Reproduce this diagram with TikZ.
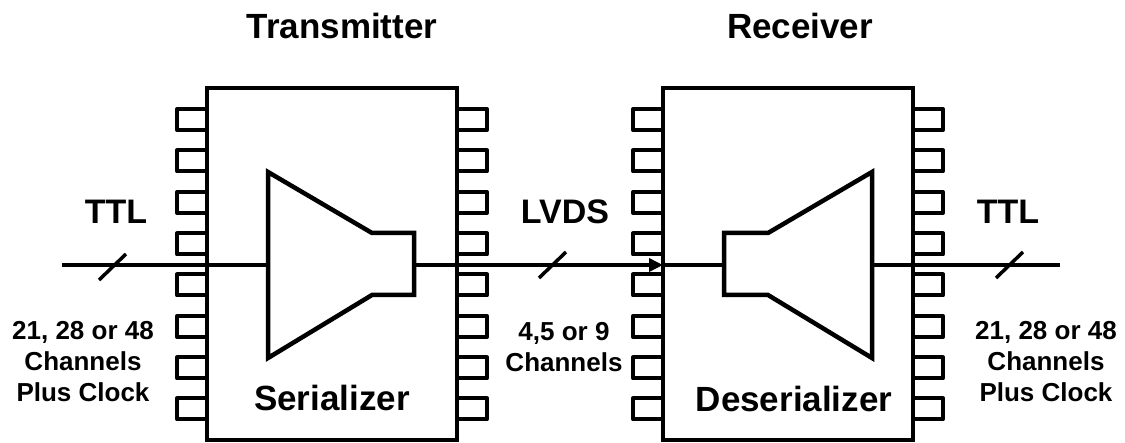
\documentclass[tikz,border=0pt]{standalone}
\usepackage{fontspec}
\setmainfont{Liberation Sans}
\usetikzlibrary{arrows.meta}
\tikzset{
  chip/.style={draw, line width=4.5pt, minimum width=250pt, minimum height=352pt, inner sep=0pt},
  pinline/.style={line width=4pt, line join=round},
  sig/.style={line width=3.5pt},
  amp/.style={line width=4.5pt, line join=miter},
  title/.style={font=\bfseries\fontsize{35}{42}\selectfont, inner sep=0pt},
  big/.style={font=\bfseries\fontsize{34}{40}\selectfont, inner sep=0pt},
  small/.style={font=\bfseries\fontsize{26}{31}\selectfont, align=center, inner sep=0pt},
}
\begin{document}
\begin{tikzpicture}[x=1pt, y=-1pt]
\useasboundingbox (0,0) rectangle (1125,443);
% chips
\node[chip] (tx) at (332,264) {};
\node[chip] (rx) at (788,264) {};
% pins
\foreach \t in {109,150.5,192,233.5,274.5,316,357.5,398.5}{
  \draw[pinline] (207,\t) -- (177,\t) -- (177,\t+21) -- (207,\t+21);
  \draw[pinline] (457,\t) -- (487,\t) -- (487,\t+21) -- (457,\t+21);
  \draw[pinline] (663,\t) -- (633,\t) -- (633,\t+21) -- (663,\t+21);
  \draw[pinline] (913,\t) -- (943,\t) -- (943,\t+21) -- (913,\t+21);
}
% amplifiers
\draw[amp] (268,172) -- (372,233) -- (414,233) -- (414,295) -- (372,295) -- (268,358) -- cycle;
\draw[amp] (872,172) -- (768,233) -- (724,233) -- (724,295) -- (768,295) -- (872,358) -- cycle;
% signal points
\coordinate (inL) at (62,265);
\coordinate (serIn) at (268,265);
\coordinate (serOut) at (414,265);
\coordinate (desIn) at (724,265);
\coordinate (desOut) at (872,265);
\coordinate (outR) at (1060,265);
\coordinate (rxIn) at (663,265);
% signal lines
\draw[sig] (inL) -- (serIn);
\draw[sig, -{Triangle[length=14pt,width=13pt]}] (serOut) -- (rxIn);
\draw[sig] (rxIn) -- (desIn);
\draw[sig] (desOut) -- (outR);
% bus slashes
\draw[sig] (99,280) -- (126,254);
\draw[sig] (539,278) -- (566,252);
\draw[sig] (996,278) -- (1023,252);
% texts
\node[title] (t1) at (342,26) {Transmitter};
\node[title] (t2) at (800,26) {Receiver};
\node[title] (s1) at (332,398) {Serializer};
\node[title] (s2) at (794,399) {Deserializer};
\node[big] (ttl1) at (116,212) {TTL};
\node[big] (lvds) at (565,212) {LVDS};
\node[big] (ttl2) at (1008,212) {TTL};
\node[small] (c1) at (83,361.5) {21, 28 or 48\\Channels\\Plus Clock};
\node[small] (c2) at (564,347.5) {4,5 or 9\\Channels};
\node[small] (c3) at (1046,361.5) {21, 28 or 48\\Channels\\Plus Clock};
\end{tikzpicture}
\end{document}
